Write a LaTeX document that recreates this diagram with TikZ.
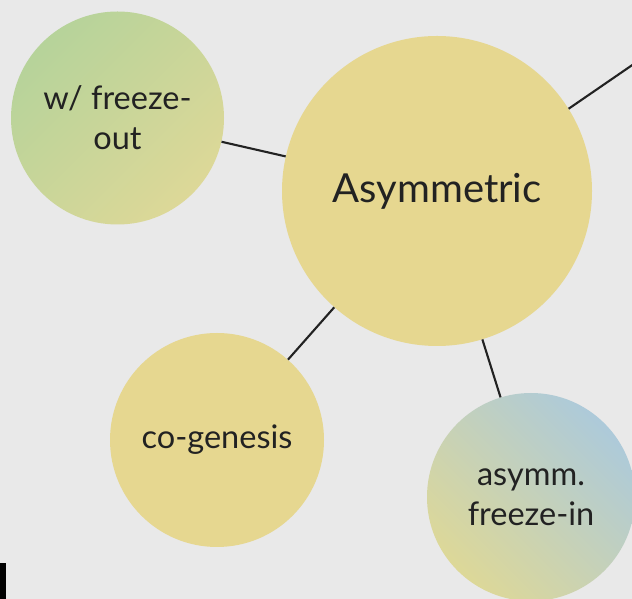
\documentclass[tikz,border=0pt]{standalone}
\usepackage{fontspec}
\setmainfont{Lato}
\definecolor{bg}{HTML}{E9E9E9}
\definecolor{sand}{HTML}{E6D790}
\definecolor{leaf}{HTML}{B6D39A}
\definecolor{straw}{HTML}{DDD898}
\definecolor{sky}{HTML}{ADCADA}
\definecolor{ink}{HTML}{222222}
\tikzset{
  bubble/.style={circle, inner sep=0pt, align=center, text=ink, font=\fontsize{32.5}{40}\selectfont},
  link/.style={draw=ink, line width=2.1pt},
}
\begin{document}
\begin{tikzpicture}[x=1pt,y=1pt]
\fill[bg] (0,0) rectangle (632,599);
\useasboundingbox (0,0) rectangle (632,599);
\clip (0,0) rectangle (632,599);
\node[bubble, minimum size=310pt, fill=sand, font=\fontsize{40}{46}\selectfont] (asym) at (437,408) {Asymmetric};
\node[bubble, minimum size=213pt, top color=leaf, bottom color=straw, shading angle=45] (fo) at (117.5,481) {w/ freeze-\\out};
\node[bubble, minimum size=214pt, fill=sand] (cg) at (217,159) {co-genesis};
\node[bubble, minimum size=208pt, top color=sky, bottom color=straw, shading angle=-45] (fi) at (531,102) {asymm.\\freeze-in};
\coordinate (far) at (660,553);
\draw[link] (fo) -- (asym);
\draw[link] (asym) -- (cg);
\draw[link] (asym.-73) -- (fi.107);
\draw[link] (asym.32.4) -- (far);
\fill[black] (0,0) rectangle (6,36);
\end{tikzpicture}
\end{document}
